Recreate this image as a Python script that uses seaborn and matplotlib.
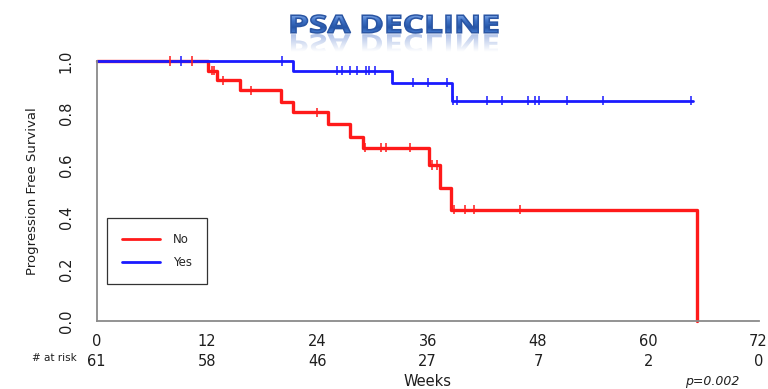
import numpy as np
import pandas as pd
import matplotlib
matplotlib.use('Agg')
import matplotlib.pyplot as plt
import seaborn as sns
from matplotlib.textpath import TextPath
from matplotlib.font_manager import FontProperties
from matplotlib.patches import PathPatch
from matplotlib.transforms import Affine2D
from matplotlib.lines import Line2D
from matplotlib.colors import LinearSegmentedColormap

# Kaplan-Meier steps (weeks, survival)
no_times = [0, 12.1, 13.1, 15.6, 20.0, 21.4, 25.2, 27.6, 29.0, 36.1, 37.3, 38.5, 65.3]
no_surv = [1.0, 0.963, 0.926, 0.887, 0.844, 0.803, 0.757, 0.709, 0.667, 0.600, 0.510, 0.427, 0.0]
no_censor = [8.0, 10.4, 12.5, 12.8, 13.7, 16.8, 24.0, 29.2, 30.9, 31.5, 34.1,
             36.5, 37.0, 38.9, 40.1, 41.0, 46.1]

yes_times = [0, 21.4, 32.1, 38.7]
yes_surv = [1.0, 0.963, 0.917, 0.847]
yes_censor = [9.2, 20.2, 26.1, 26.7, 27.5, 28.3, 29.3, 29.6, 30.3, 34.4, 36.0, 38.1,
              38.8, 39.2, 42.5, 44.1, 46.9, 47.7, 48.1, 51.2, 55.1, 64.7]
yes_end = 64.9

risk_weeks = [0, 12, 24, 36, 48, 60, 72]
at_risk = [61, 58, 46, 27, 7, 2, 0]

colors = {'No': '#ff1a1a', 'Yes': '#1a1aff'}


def surv_at(times, surv, t):
    # value of the step function at time t
    idx = np.searchsorted(times, t, side='right') - 1
    return surv[idx]


def build_frames():
    curves = pd.concat([
        pd.DataFrame({'week': no_times, 'surv': no_surv, 'group': 'No'}),
        pd.DataFrame({'week': yes_times + [yes_end], 'surv': yes_surv + [yes_surv[-1]], 'group': 'Yes'}),
    ], ignore_index=True)
    cens = pd.concat([
        pd.DataFrame({'week': no_censor,
                      'surv': [surv_at(no_times, no_surv, t) for t in no_censor], 'group': 'No'}),
        pd.DataFrame({'week': yes_censor,
                      'surv': [surv_at(yes_times, yes_surv, t) for t in yes_censor], 'group': 'Yes'}),
    ], ignore_index=True)
    return curves, cens


def draw_title(fig):
    # overlay axes in pixel coords for the WordArt-ish title
    tax = fig.add_axes([0, 0, 1, 1], facecolor='none')
    tax.set_axis_off()
    fp = FontProperties(family='Open Sans', weight='bold')
    path = TextPath((0, 0), 'PSA DECLINE', size=100, prop=fp)
    bb = path.get_extents()
    x0, x1, top, base = 291, 498, 15, 33
    sx = (x1 - x0) / bb.width
    sy = (base - top) / bb.height

    tr = Affine2D().translate(-bb.x0, -bb.y0).scale(sx, -sy).translate(x0, base)
    patch = PathPatch(tr.transform_path(path), facecolor='none', edgecolor='#2a55a3', lw=1.1)
    cmap = LinearSegmentedColormap.from_list('t', ['#86aeea', '#3f72c6', '#2656a8', '#4a80d4'])
    grad = np.linspace(0, 1, 64).reshape(-1, 1)
    tax.add_patch(patch)
    im = tax.imshow(grad, cmap=cmap, extent=(x0 - 2, x1 + 2, base + 1, top - 1), aspect='auto')
    im.set_clip_path(patch)

    # faded reflection under the text
    rtr = Affine2D().translate(-bb.x0, -bb.y0).scale(sx, sy).translate(x0, base + 1)
    rpatch = PathPatch(rtr.transform_path(path), facecolor='none', edgecolor='none')
    tax.add_patch(rpatch)
    rgba = np.zeros((64, 1, 4))
    rgba[..., 0] = 0.38
    rgba[..., 1] = 0.52
    rgba[..., 2] = 0.82
    rgba[:, 0, 3] = np.linspace(0.5, 0.0, 64)
    rim = tax.imshow(rgba, extent=(x0, x1, base + 1 + (base - top), base + 1), aspect='auto')
    rim.set_clip_path(rpatch)

    tax.set_xlim(0, 768)
    tax.set_ylim(389, 0)


def main():
    sns.set_style('white')
    plt.rcParams['font.family'] = ['DejaVu Sans']

    curves, cens = build_frames()

    fig = plt.figure(figsize=(7.68, 3.89), dpi=100)
    ax = fig.add_axes([96.7 / 768, 1 - 321 / 389, (758.6 - 96.7) / 768, 260 / 389])

    sns.lineplot(data=curves, x='week', y='surv', hue='group', hue_order=['No', 'Yes'],
                 palette=colors, drawstyle='steps-post', linewidth=2.0, estimator=None,
                 legend=False, ax=ax)
    for line in ax.lines:
        line.set_clip_on(False)
    ax.lines[0].set_linewidth(2.4)  # red curve is a bit heavier on the slide
    sns.scatterplot(data=cens, x='week', y='surv', hue='group', hue_order=['No', 'Yes'],
                    palette=colors, marker='|', s=42, linewidth=1.1, legend=False, ax=ax,
                    clip_on=False, zorder=3)

    ax.set_xlim(0, 72)
    ax.set_ylim(0, 1)
    ax.set_xticks(risk_weeks)
    ax.set_yticks([0, 0.2, 0.4, 0.6, 0.8, 1.0])
    ax.set_yticklabels(['0.0', '0.2', '0.4', '0.6', '0.8', '1.0'])
    ax.set_xlabel('')
    ax.set_ylabel('')
    sns.despine(ax=ax)
    for side in ['left', 'bottom']:
        ax.spines[side].set_color('#8a8a8a')
        ax.spines[side].set_linewidth(1.3)
    ax.tick_params(axis='both', length=6.5, width=1.2, color='#8a8a8a', labelsize=10.5,
                   labelcolor='#1e1e1e')
    ax.tick_params(axis='x', pad=3)
    ax.tick_params(axis='y', pad=10, labelrotation=90)
    for lab in ax.get_yticklabels():
        lab.set_verticalalignment('center')

    # number at risk row
    for w, n in zip(risk_weeks, at_risk):
        ax.text(w, -0.155, str(n), transform=ax.get_xaxis_transform(), ha='center', va='center',
                fontsize=10.5, color='#1e1e1e')
    fig.text(77 / 768, 1 - 358 / 389, '# at risk', ha='right', va='center', fontsize=7.5,
             color='#1e1e1e')

    fig.text(428 / 768, 1 - 381 / 389, 'Weeks', ha='center', va='center', fontsize=10.5,
             color='#1e1e1e')
    fig.text(33 / 768, 1 - 191 / 389, 'Progression Free Survival', rotation=90, ha='center',
             va='center', fontsize=9.5, color='#1e1e1e')
    fig.text(712 / 768, 1.5 / 389, 'p=0.002', ha='center', va='bottom', fontsize=9,
             style='italic', color='#1e1e1e')

    handles = [Line2D([], [], color=colors['No'], lw=2), Line2D([], [], color=colors['Yes'], lw=2)]
    leg = ax.legend(handles, ['No', 'Yes'], loc='lower left', bbox_to_anchor=(0.0156, 0.142),
                    borderaxespad=0, fancybox=False, edgecolor='#333333', framealpha=1,
                    handlelength=3.2, handletextpad=1.1, borderpad=1.3, labelspacing=0.8,
                    fontsize=8.5)
    leg.get_frame().set_linewidth(0.9)

    draw_title(fig)

    fig.savefig('out.png', dpi=100)


if __name__ == '__main__':
    main()
